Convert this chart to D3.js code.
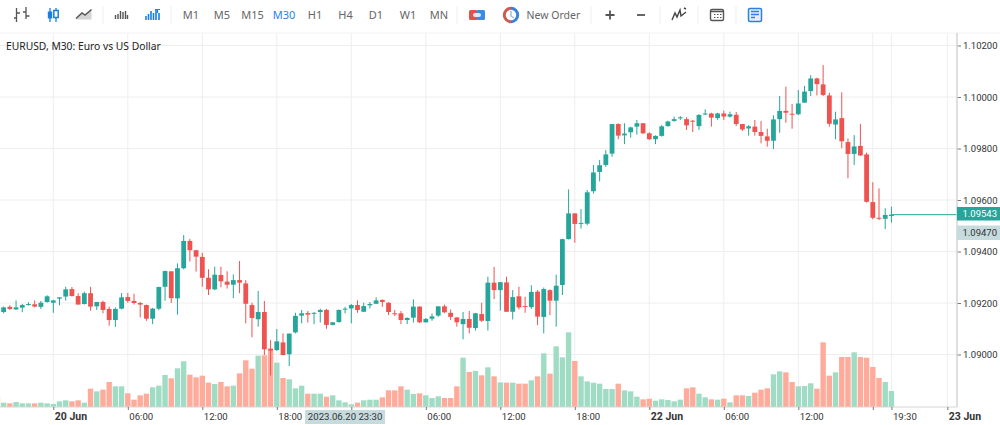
<!DOCTYPE html>
<html lang="en">
  <head>
    <meta charset="utf-8" />
    <title>EURUSD, M30</title>
    <style>
      html, body { margin: 0; padding: 0; background: #fff; overflow: hidden; }
      svg { display: block; font-family: "Noto Sans", sans-serif; }
    </style>
  </head>
  <body>

<div id="container"></div>

<script src="https://cdnjs.cloudflare.com/ajax/libs/d3/7.8.5/d3.min.js"></script>

<script type="text/javascript" charset="utf-8">

// bar number 0 is 20 Jun 00:00, one bar every 30 minutes
var firstBar = -9;

var opens = [
  1.09214,1.09165,1.09185,1.09175,1.09182,1.09194,1.09195,1.09185,1.09204,
  1.09201,1.09217,1.09225,1.09254,1.09227,1.09196,1.09238,1.09187,1.09204,1.09177,
  1.09134,1.09178,1.09223,1.09208,1.09200,1.09192,1.09139,1.09178,1.09263,1.09323,
  1.09218,1.09335,1.09441,1.09405,1.09379,1.09298,1.09253,1.09309,1.09283,1.09271,
  1.09289,1.09276,1.09192,1.09137,1.09165,1.09023,1.09017,1.09047,1.09001,1.09086,
  1.09151,1.09161,1.09159,1.09165,1.09173,1.09115,1.09126,1.09175,1.09179,1.09192,
  1.09166,1.09191,1.09197,1.09212,1.09201,1.09160,1.09160,1.09134,1.09143,1.09186,
  1.09125,1.09139,1.09151,1.09187,1.09162,1.09144,1.09118,1.09138,1.09103,1.09157,
  1.09130,1.09279,1.09250,1.09280,1.09166,1.09226,1.09188,1.09184,1.09244,1.09146,
  1.09250,1.09209,1.09270,1.09448,1.09548,1.09508,1.09508,1.09634,1.09709,1.09736,
  1.09780,1.09895,1.09851,1.09863,1.09885,1.09898,1.09859,1.09836,1.09849,1.09887,
  1.09907,1.09920,1.09914,1.09908,1.09887,1.09933,1.09936,1.09918,1.09936,1.09924,
  1.09931,1.09895,1.09878,1.09885,1.09864,1.09847,1.09830,1.09914,1.09946,1.09935,
  1.09933,1.09978,1.10023,1.10072,1.10049,1.10006,1.09893,1.09918,1.09825,1.09779,
  1.09810,1.09777,1.09592,1.09531,1.09527,1.09538
];
var closes = [
  1.09183,1.09183,1.09177,1.09183,1.09192,1.09196,1.09186,1.09201,1.09226,
  1.09210,1.09222,1.09253,1.09227,1.09194,1.09238,1.09186,1.09204,1.09173,1.09134,
  1.09177,1.09222,1.09208,1.09200,1.09194,1.09139,1.09178,1.09262,1.09324,1.09219,
  1.09335,1.09441,1.09405,1.09380,1.09298,1.09253,1.09310,1.09284,1.09271,1.09289,
  1.09279,1.09197,1.09142,1.09165,1.09020,1.09015,1.09051,1.08998,1.09081,1.09150,
  1.09160,1.09155,1.09162,1.09173,1.09115,1.09125,1.09173,1.09178,1.09192,1.09173,
  1.09188,1.09196,1.09210,1.09204,1.09165,1.09159,1.09134,1.09142,1.09186,1.09125,
  1.09138,1.09148,1.09187,1.09164,1.09146,1.09125,1.09138,1.09104,1.09160,1.09131,
  1.09279,1.09250,1.09281,1.09166,1.09223,1.09183,1.09186,1.09243,1.09147,1.09254,
  1.09209,1.09267,1.09448,1.09548,1.09507,1.09511,1.09630,1.09707,1.09735,1.09777,
  1.09895,1.09850,1.09858,1.09882,1.09898,1.09859,1.09836,1.09849,1.09886,1.09905,
  1.09914,1.09921,1.09890,1.09907,1.09930,1.09936,1.09920,1.09936,1.09924,1.09933,
  1.09895,1.09874,1.09886,1.09864,1.09849,1.09830,1.09913,1.09946,1.09939,1.09933,
  1.09975,1.10021,1.10072,1.10050,1.10008,1.09896,1.09913,1.09828,1.09779,1.09808,
  1.09773,1.09593,1.09531,1.09530,1.09542,1.09543
];
var highs = [
  1.09214,1.09186,1.09191,1.09210,1.09196,1.09203,1.09210,1.09208,1.09230,
  1.09212,1.09222,1.09263,1.09262,1.09238,1.09244,1.09263,1.09204,1.09209,1.09186,
  1.09183,1.09239,1.09239,1.09236,1.09204,1.09194,1.09181,1.09263,1.09326,1.09323,
  1.09354,1.09464,1.09449,1.09406,1.09395,1.09331,1.09341,1.09341,1.09323,1.09311,
  1.09363,1.09289,1.09201,1.09247,1.09208,1.09056,1.09099,1.09082,1.09082,1.09162,
  1.09173,1.09169,1.09164,1.09178,1.09177,1.09125,1.09175,1.09185,1.09196,1.09210,
  1.09201,1.09204,1.09222,1.09214,1.09203,1.09173,1.09169,1.09144,1.09214,1.09187,
  1.09142,1.09159,1.09188,1.09194,1.09175,1.09144,1.09165,1.09169,1.09162,1.09201,
  1.09302,1.09340,1.09281,1.09302,1.09250,1.09263,1.09224,1.09269,1.09250,1.09260,
  1.09253,1.09310,1.09450,1.09641,1.09548,1.09565,1.09639,1.09736,1.09755,1.09794,
  1.09895,1.09898,1.09898,1.09885,1.09911,1.09899,1.09863,1.09851,1.09891,1.09908,
  1.09924,1.09926,1.09921,1.09911,1.09934,1.09952,1.09939,1.09939,1.09947,1.09943,
  1.09942,1.09895,1.09891,1.09911,1.09907,1.09877,1.09929,1.10004,1.10040,1.09973,
  1.10027,1.10043,1.10085,1.10075,1.10124,1.10017,1.09943,1.10018,1.09839,1.09852,
  1.09895,1.09784,1.09669,1.09645,1.09568,1.09574
];
var lows = [
  1.09180,1.09160,1.09173,1.09173,1.09164,1.09190,1.09183,1.09177,1.09201,
  1.09162,1.09191,1.09209,1.09225,1.09194,1.09194,1.09170,1.09173,1.09160,1.09112,
  1.09107,1.09175,1.09201,1.09194,1.09144,1.09131,1.09118,1.09172,1.09209,1.09200,
  1.09155,1.09331,1.09361,1.09322,1.09263,1.09231,1.09250,1.09261,1.09256,1.09219,
  1.09238,1.09121,1.09067,1.09108,1.08998,1.08919,1.09015,1.08997,1.08955,1.09082,
  1.09121,1.09124,1.09118,1.09124,1.09100,1.09113,1.09124,1.09160,1.09121,1.09162,
  1.09165,1.09179,1.09196,1.09185,1.09153,1.09150,1.09118,1.09118,1.09124,1.09122,
  1.09124,1.09131,1.09146,1.09160,1.09134,1.09108,1.09059,1.09082,1.09093,1.09127,
  1.09093,1.09215,1.09170,1.09166,1.09136,1.09175,1.09162,1.09177,1.09114,1.09082,
  1.09153,1.09108,1.09231,1.09447,1.09434,1.09489,1.09502,1.09625,1.09672,1.09729,
  1.09768,1.09836,1.09817,1.09842,1.09854,1.09856,1.09833,1.09817,1.09846,1.09885,
  1.09904,1.09911,1.09872,1.09864,1.09872,1.09930,1.09885,1.09911,1.09911,1.09920,
  1.09887,1.09868,1.09850,1.09850,1.09820,1.09807,1.09798,1.09861,1.09900,1.09877,
  1.09929,1.09978,1.10004,1.10006,1.10004,1.09885,1.09836,1.09801,1.09684,1.09736,
  1.09771,1.09590,1.09525,1.09522,1.09487,1.09512
];
var volumes = [
  300,130,110,150,110,110,110,130,110,
  90,170,200,170,200,130,550,470,520,750,
  620,620,410,220,350,400,590,640,960,860,
  1160,1370,970,890,940,730,690,750,620,640,
  1010,1400,1150,1540,1550,1720,1330,870,830,560,
  640,400,400,400,310,350,200,140,80,130,
  200,220,220,290,500,500,620,520,390,410,
  350,270,320,270,270,620,1480,1050,1080,950,
  1190,920,740,730,730,700,700,800,920,1610,
  1000,1820,1490,2240,1380,920,770,730,700,540,
  540,700,500,470,310,230,250,190,230,210,
  170,220,560,590,400,290,230,220,250,140,
  350,350,330,430,520,560,980,1070,1040,750,
  620,630,710,550,1940,940,1040,1500,1500,1640,
  1500,1480,1200,870,750,480
];

var priceTicks = [1.102, 1.1, 1.098, 1.096, 1.094, 1.092, 1.09];
var timeTickBars = [0, 12, 24, 36, 48, 60, 72, 84, 96, 108, 120, 132, 135, 144];
var timeTickLabels = ["20 Jun", "06:00", "12:00", "18:00", "", "06:00", "12:00", "18:00", "22 Jun", "06:00", "12:00", "", "19:30", "23 Jun"];
var bidPrice = 1.09543;
var askPrice = 1.09470;
var crosshairBar = 47;
var crosshairLabel = "2023.06.20 23:30";

var periods = ["M1", "M5", "M15", "M30", "H1", "H4", "D1", "W1", "MN"];
var periodCenters = [191, 222, 252.5, 284, 315, 345.5, 376, 408, 439];
var separators = [103, 171, 457, 591, 660, 698, 736];

var upColor = "#26a69a", downColor = "#ef5350";
var upVolume = "#a0dcc4", downVolume = "#ffab9b";
var blue = "#2f80e0", dark = "#555";
var gridColor = "#eeeeee";

var width = 1000, height = 425, axisX = 957, plotTop = 33, plotBottom = 407;

var svg = d3.select("#container").append("svg")
    .attr("width", width)
    .attr("height", height);

var x = d3.scaleLinear().domain([0, 120]).range([53.3, 798.3]);
var y = d3.scaleLinear().domain([1.09, 1.102]).range([354.5, 45.5]);
var v = d3.scaleLinear().domain([0, 3000]).range([plotBottom, plotBottom - 100]);

var bars = d3.range(opens.length).map(function(i) { return i + firstBar; });
function at(list) { return function(d) { return list[d - firstBar]; }; }
function isUp(d) { return closes[d - firstBar] >= opens[d - firstBar]; }

// grid
svg.append("g").selectAll("line")
    .data(priceTicks)
    .enter().append("line")
    .attr("x1", 0).attr("x2", axisX)
    .attr("y1", function(d) { return y(d); })
    .attr("y2", function(d) { return y(d); })
    .attr("stroke", gridColor);

svg.append("g").selectAll("line")
    .data(timeTickBars)
    .enter().append("line")
    .attr("x1", function(d) { return x(d); })
    .attr("x2", function(d) { return x(d); })
    .attr("y1", plotTop).attr("y2", plotBottom)
    .attr("stroke", gridColor);

svg.append("line")
    .attr("x1", 0).attr("x2", width)
    .attr("y1", plotTop).attr("y2", plotTop)
    .attr("stroke", "#f2f2f2");

// volumes
svg.append("g").selectAll("rect")
    .data(bars)
    .enter().append("rect")
    .attr("x", function(d) { return x(d) - 2.7; })
    .attr("width", 5.4)
    .attr("y", function(d) { return v(at(volumes)(d)); })
    .attr("height", function(d) { return plotBottom - v(at(volumes)(d)); })
    .attr("fill", function(d) { return isUp(d) ? upVolume : downVolume; });

// candles
var candles = svg.append("g").selectAll("g")
    .data(bars)
    .enter().append("g");

candles.append("line")
    .attr("x1", function(d) { return x(d); })
    .attr("x2", function(d) { return x(d); })
    .attr("y1", function(d) { return y(at(highs)(d)); })
    .attr("y2", function(d) { return y(at(lows)(d)); })
    .attr("stroke", function(d) { return isUp(d) ? upColor : downColor; })
    .attr("stroke-width", 1);

candles.append("rect")
    .attr("x", function(d) { return x(d) - 2.4; })
    .attr("width", 4.8)
    .attr("y", function(d) { return y(Math.max(at(opens)(d), at(closes)(d))); })
    .attr("height", function(d) {
      return Math.max(1, Math.abs(y(at(opens)(d)) - y(at(closes)(d))));
    })
    .attr("fill", function(d) { return isUp(d) ? upColor : downColor; });

// current price line
svg.append("line")
    .attr("x1", x(bars[bars.length - 1])).attr("x2", axisX)
    .attr("y1", y(bidPrice)).attr("y2", y(bidPrice))
    .attr("stroke", upColor);

// axes
var priceAxis = d3.axisRight(y)
    .tickValues(priceTicks)
    .tickSize(4)
    .tickPadding(2)
    .tickFormat(d3.format(".5f"));

var gPrice = svg.append("g")
    .attr("transform", "translate(" + axisX + ",0)")
    .call(priceAxis);
gPrice.select(".domain").remove();
gPrice.selectAll("text").attr("font-size", 9.5).attr("font-family", "Roboto, sans-serif").attr("fill", "#333");
gPrice.selectAll("line").attr("stroke", "#777");

svg.append("line")
    .attr("x1", axisX).attr("x2", axisX)
    .attr("y1", plotTop).attr("y2", plotBottom)
    .attr("stroke", "#d5d5d5").attr("stroke-width", 1.5);

svg.append("line")
    .attr("x1", 0).attr("x2", axisX)
    .attr("y1", plotBottom).attr("y2", plotBottom)
    .attr("stroke", "#d5d5d5").attr("stroke-width", 1);

var timeAxis = d3.axisBottom(x)
    .tickValues(timeTickBars)
    .tickSize(3)
    .tickPadding(3)
    .tickFormat(function(d) { return timeTickLabels[timeTickBars.indexOf(d)]; });

var gTime = svg.append("g")
    .attr("transform", "translate(0," + plotBottom + ")")
    .call(timeAxis);
gTime.select(".domain").remove();
gTime.selectAll("line").attr("stroke", "#777");
gTime.selectAll("text")
    .attr("text-anchor", "start")
    .attr("dx", 1)
    .attr("font-family", "Roboto, sans-serif")
    .attr("fill", "#333")
    .attr("font-size", function(d) { return /Jun/.test(timeTickLabels[timeTickBars.indexOf(d)]) ? 10.5 : 9.6; })
    .attr("font-weight", function(d) { return /Jun/.test(timeTickLabels[timeTickBars.indexOf(d)]) ? "bold" : "normal"; });

// price labels on the right
function priceLabel(price, boxTop, boxHeight, fill, color) {
  svg.append("rect")
      .attr("x", axisX).attr("y", boxTop)
      .attr("width", width - axisX).attr("height", boxHeight)
      .attr("fill", fill);
  svg.append("text")
      .attr("x", axisX + 5.5).attr("y", boxTop + boxHeight / 2)
      .attr("dy", "0.35em")
      .attr("font-family", "Roboto, sans-serif")
      .attr("font-size", 9.5)
      .attr("fill", color)
      .text(d3.format(".5f")(price));
}
priceLabel(bidPrice, 207, 13.5, upColor, "#fff");
priceLabel(askPrice, 225.5, 14.5, "#c6dbde", "#333");

// crosshair time label
var crossCenter = x(crosshairBar);
svg.append("rect")
    .attr("x", crossCenter - 40).attr("y", 410)
    .attr("width", 80).attr("height", 14)
    .attr("fill", "#c6dbde");
svg.append("text")
    .attr("x", crossCenter).attr("y", 417)
    .attr("dy", "0.35em")
    .attr("text-anchor", "middle")
    .attr("font-family", "Roboto, sans-serif")
    .attr("font-size", 9.6)
    .attr("fill", "#333")
    .text(crosshairLabel);

// legend
svg.append("text")
    .attr("x", 6).attr("y", 50)
    .attr("font-size", 10.3)
    .attr("fill", "#222")
    .text("EURUSD, M30: Euro vs US Dollar");

// toolbar
var toolbar = svg.append("g");

toolbar.selectAll("line.sep")
    .data(separators)
    .enter().append("line")
    .attr("class", "sep")
    .attr("x1", function(d) { return d; })
    .attr("x2", function(d) { return d; })
    .attr("y1", 6).attr("y2", 24)
    .attr("stroke", "#eeeeee");

toolbar.selectAll("text.period")
    .data(periods)
    .enter().append("text")
    .attr("class", "period")
    .attr("x", function(d, i) { return periodCenters[i]; })
    .attr("y", 15)
    .attr("dy", "0.36em")
    .attr("text-anchor", "middle")
    .attr("font-size", 11)
    .attr("fill", function(d) { return d === "M30" ? blue : "#666"; })
    .text(function(d) { return d; });

toolbar.append("text")
    .attr("x", 526.5).attr("y", 15)
    .attr("dy", "0.36em")
    .attr("font-size", 10.5)
    .attr("fill", "#666")
    .text("New Order");

function icon(d, stroke, fill, strokeWidth) {
  return toolbar.append("path")
      .attr("d", d)
      .attr("stroke", stroke || "none")
      .attr("fill", fill || "none")
      .attr("stroke-width", strokeWidth || 1.3);
}

// bars, candles, line
icon("M16.5 8V22M16.5 13H20M14 18H16.5M26 7V19M23 12H26M26 16H29.5", dark);
icon("M50 8V22M56 8V22", "#1a7fe0");
toolbar.append("rect").attr("x", 47.8).attr("y", 11.5).attr("width", 4.4).attr("height", 7).attr("fill", "#1a7fe0");
toolbar.append("rect").attr("x", 53.8).attr("y", 10.5).attr("width", 4.4).attr("height", 7).attr("fill", "#fff").attr("stroke", "#1a7fe0").attr("stroke-width", 1.5);
icon("M76 19L82 13.5L85 15.5L91.5 10V19.5H76Z", null, "#d4d4d4");
icon("M76 18.5L82 13L85 15L91.5 9.5", "#555", null, 1.5);

// tick volume icons
icon("M115.5 15V19M118 14V19M120.5 11V19M123 12V19M125.5 11V19M127.5 15V19", "#555", null, 1.4);
icon("M146 16V20M148.5 14V20M151 11V20M153.5 13V20M156 9V20M159 13V20", "#1a7fe0", null, 1.6);
icon("M155 9.5H160M157.5 9.5V13", "#1a7fe0", null, 1.2);

// one click trading button
toolbar.append("rect").attr("x", 469).attr("y", 10).attr("width", 8.5).attr("height", 10).attr("rx", 1.5).attr("fill", "#e0524a");
toolbar.append("rect").attr("x", 476.5).attr("y", 10).attr("width", 8.5).attr("height", 10).attr("rx", 1.5).attr("fill", "#3b8ae6");
toolbar.append("rect").attr("x", 473).attr("y", 13).attr("width", 8).attr("height", 4).attr("rx", 2).attr("fill", "#dfe9f5");

// new order circle
icon("M511 8.3A6.7 6.7 0 0 0 511 21.7", "#cf5a4e", null, 3);
icon("M511 8.3A6.7 6.7 0 0 1 511 21.7", "#3b82d6", null, 3);
icon("M511 11V16L514 18", "#9fb8d8", null, 1.4);

// zoom in, zoom out
icon("M605.5 15H614.5M610 10.5V19.5", dark, null, 1.8);
icon("M637 15H645", dark, null, 1.8);

// indicators
icon("M672 20L675 13L677 17L680 10L681 16L686 12M684 8L686 9", "#444", null, 1.4);

// calendar
toolbar.append("rect").attr("x", 710.5).attr("y", 9.5).attr("width", 13).attr("height", 11).attr("rx", 1.5)
    .attr("fill", "none").attr("stroke", "#555").attr("stroke-width", 1.4);
icon("M711 11.5H723", "#555", null, 1.5);
icon("M714 14.5H715.5M717 14.5H718.5M720 14.5H721.5M714 17.5H715.5M717 17.5H718.5M720 17.5H721.5", "#555", null, 1);

// news
toolbar.append("rect").attr("x", 748.5).attr("y", 8.5).attr("width", 13).attr("height", 13).attr("rx", 1.5)
    .attr("fill", "#e4effb").attr("stroke", blue).attr("stroke-width", 1.5);
icon("M751 11.5H759M751 14.5H759M751 17.5H755", blue, null, 1.4);

</script>

</body>
</html>
